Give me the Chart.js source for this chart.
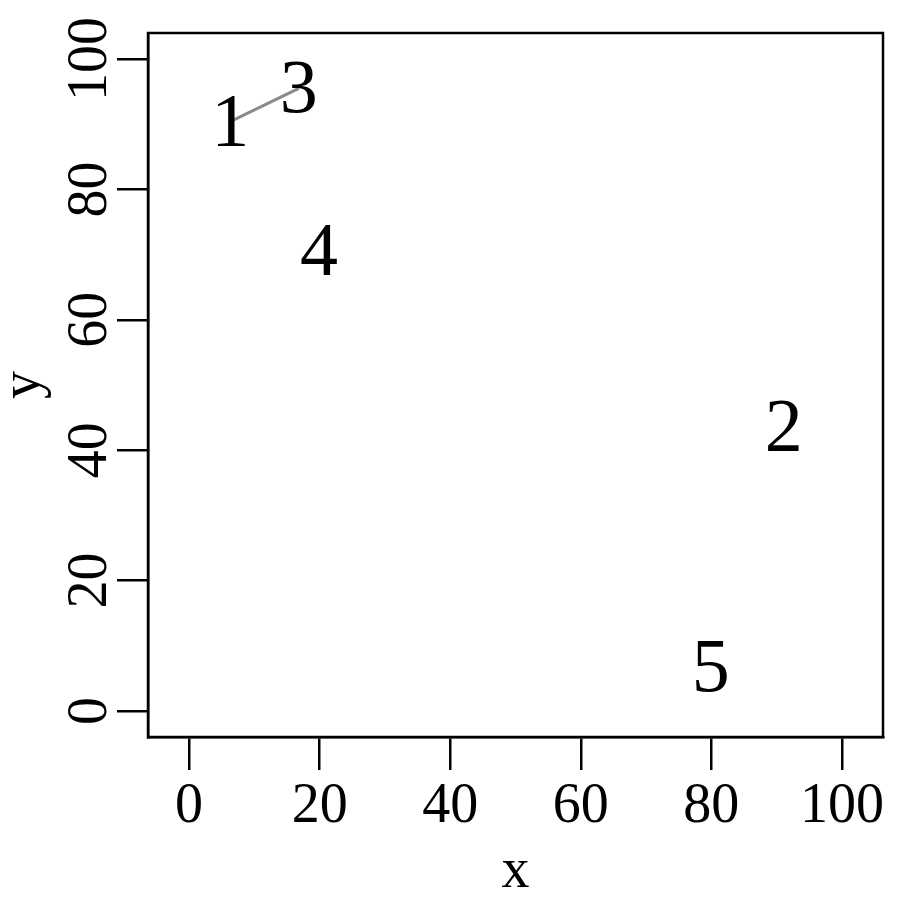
<!DOCTYPE html>
<html>
<head>
<meta charset="utf-8">
<script src="https://cdn.jsdelivr.net/npm/chart.js@4"></script>
<style>
  body { margin: 0; background: #fff; }
  canvas { display: block; }
</style>
</head>
<body>
<canvas id="plot" width="900" height="900"></canvas>
<script>
// point labels and where they sit
const labels = ["1", "2", "3", "4", "5"];
const xValues = [6.3, 91.1, 16.8, 19.9, 79.9];
const yValues = [90.4, 43.6, 95.5, 70.5, 6.7];

// the grey segment joins point 1 and point 3
const segmentFrom = 0;
const segmentTo = 2;

// tick labels on both axes
const xTicks = [0, 20, 40, 60, 80, 100];
const yTicks = [0, 20, 40, 60, 80, 100];

const serif = "'Liberation Serif', 'Times New Roman', serif";

const points = xValues.map((x, i) => ({ x: x, y: yValues[i] }));
const segment = [points[segmentFrom], points[segmentTo]];

// box around the plot region, like R's bty="o"
const boxPlugin = {
  id: "box",
  afterDraw(chart) {
    const a = chart.chartArea;
    const ctx = chart.ctx;
    ctx.save();
    ctx.strokeStyle = "#000";
    ctx.lineWidth = 2.5;
    ctx.strokeRect(a.left, a.top, a.right - a.left, a.bottom - a.top);
    ctx.restore();
  }
};

// write each label at its point instead of a marker
const textPlugin = {
  id: "pointText",
  afterDatasetsDraw(chart) {
    const meta = chart.getDatasetMeta(1);
    const ctx = chart.ctx;
    ctx.save();
    ctx.fillStyle = "#000";
    ctx.font = "76px " + serif;
    ctx.textAlign = "center";
    ctx.textBaseline = "middle";
    meta.data.forEach((el, i) => {
      // R centres the digits a touch lower than canvas "middle"
      ctx.fillText(labels[i], el.x, el.y + 4);
    });
    ctx.restore();
  }
};

new Chart(document.getElementById("plot"), {
  type: "scatter",
  data: {
    datasets: [
      {
        data: segment,
        showLine: true,
        borderColor: "#8a8a8a",
        borderWidth: 3,
        pointRadius: 0
      },
      {
        data: points,
        showLine: false,
        pointRadius: 0
      }
    ]
  },
  options: {
    responsive: false,
    animation: false,
    layout: { padding: { top: 33, right: 17, left: 0, bottom: 0 } },
    plugins: {
      legend: { display: false },
      tooltip: { enabled: false }
    },
    scales: {
      x: {
        type: "linear",
        min: -6.3,
        max: 106.3,
        afterBuildTicks: function (scale) {
          scale.ticks = xTicks.map(v => ({ value: v }));
        },
        afterFit: function (scale) {
          scale.height = 163;
        },
        grid: {
          drawOnChartArea: false,
          drawTicks: true,
          tickLength: 33,
          color: "#000",
          lineWidth: 2.5
        },
        border: { display: true, color: "#000", width: 2.5 },
        ticks: {
          color: "#000",
          font: { family: serif, size: 56 },
          padding: 4,
          maxRotation: 0,
          autoSkip: false
        },
        title: {
          display: true,
          text: "x",
          color: "#000",
          font: { family: serif, size: 56 },
          padding: { top: 0, bottom: -6 }
        }
      },
      y: {
        type: "linear",
        min: -4,
        max: 104,
        afterBuildTicks: function (scale) {
          scale.ticks = yTicks.map(v => ({ value: v }));
        },
        afterFit: function (scale) {
          scale.width = 148;
        },
        grid: {
          drawOnChartArea: false,
          drawTicks: true,
          tickLength: 31,
          color: "#000",
          lineWidth: 2.5
        },
        border: { display: true, color: "#000", width: 2.5 },
        ticks: {
          color: "#000",
          font: { family: serif, size: 56 },
          minRotation: 90,
          maxRotation: 90,
          crossAlign: "center",
          padding: -16,
          autoSkip: false
        },
        title: {
          display: true,
          text: "y",
          color: "#000",
          font: { family: serif, size: 56 },
          padding: { top: -9, bottom: 0 }
        }
      }
    }
  },
  plugins: [boxPlugin, textPlugin]
});
</script>
</body>
</html>
